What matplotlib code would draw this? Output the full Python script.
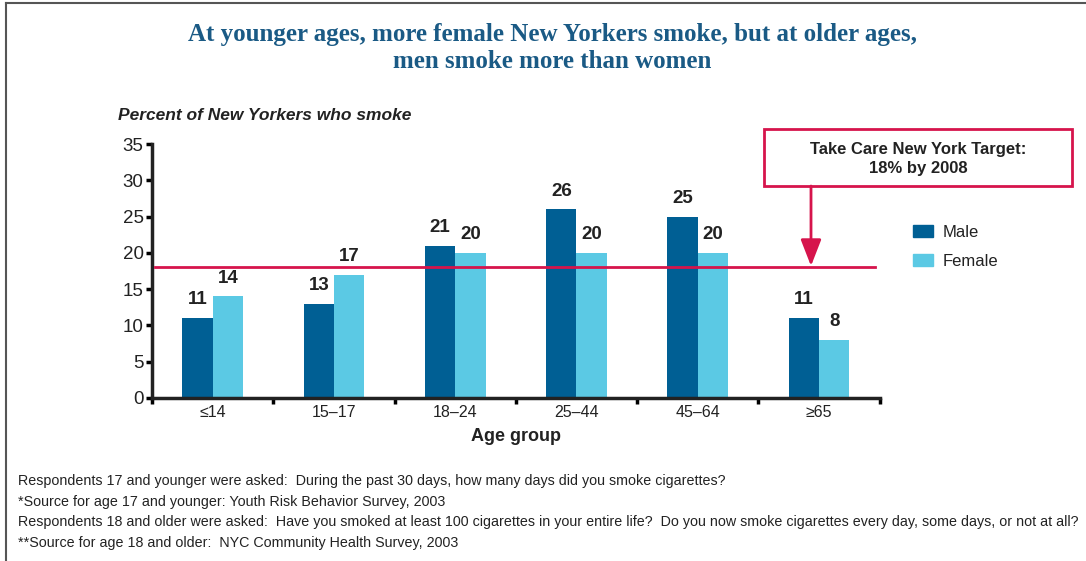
import numpy as np
import matplotlib.pyplot as plt
from matplotlib.lines import Line2D
from matplotlib.patches import Rectangle

# smoking rates by age group, 2003
ages = ["\u226414", "15\u201317", "18\u201324", "25\u201344", "45\u201364", "\u226565"]
male = [11, 13, 21, 26, 25, 11]
female = [14, 17, 20, 20, 20, 8]
target = 18

male_col = "#005f94"
female_col = "#5bc9e4"
red = "#d6144c"
blue_title = "#1a5a85"

plt.rcParams['font.family'] = ['Liberation Sans', 'DejaVu Sans']

fig = plt.figure(figsize=(10.86, 5.61), dpi=100)
ax = fig.add_axes([0.140, 0.2906, 0.670, 0.4527])

x = np.arange(len(ages))
w = 0.25
ax.bar(x - w / 2, male, w, color=male_col, label="Male", zorder=2)
ax.bar(x + w / 2, female, w, color=female_col, label="Female", zorder=2)

for xi, m, f in zip(x, male, female):
    ax.annotate(str(m), (xi - w / 2, m), xytext=(0, 7), textcoords="offset points",
                ha="center", va="bottom", fontsize=13.5, fontweight="bold", color="#222222")
    ax.annotate(str(f), (xi + w / 2, f), xytext=(0, 7), textcoords="offset points",
                ha="center", va="bottom", fontsize=13.5, fontweight="bold", color="#222222")

ax.axhline(target, xmin=0.004, xmax=0.993, color=red, lw=2, zorder=3)

ax.set_xlim(-0.5, 5.5)
ax.set_ylim(0, 35)
ax.set_yticks(range(0, 36, 5))
ax.set_xticks(np.arange(-0.5, 6, 1))
ax.set_xticklabels([])
ax.set_xticks(x, minor=True)
ax.set_xticklabels(ages, minor=True, fontsize=11.5, color="#222222")
ax.tick_params(axis="x", which="minor", length=0, pad=5)
ax.tick_params(axis="x", which="major", length=4, width=2.5, direction="out")
ax.tick_params(axis="y", length=4, width=2.5, labelsize=13.5, pad=2, labelcolor="#222222")
for s in ["top", "right"]:
    ax.spines[s].set_visible(False)
for s in ["left", "bottom"]:
    ax.spines[s].set_linewidth(2.5)
    ax.spines[s].set_color("#222222")

ax.set_xlabel("Age group", fontsize=13, fontweight="bold", color="#222222", labelpad=6)
fig.text(118 / 1086, 1 - 115 / 561, "Percent of New Yorkers who smoke", fontsize=12.5,
         fontweight="bold", style="italic", color="#222222", va="center")

# target callout box and arrow
fig.patches.append(Rectangle((764 / 1086, 1 - 186 / 561), 308 / 1086, 57 / 561,
                             transform=fig.transFigure, fill=False, ec=red, lw=2))
fig.text(918 / 1086, 1 - 159 / 561, "Take Care New York Target:\n18% by 2008",
         ha="center", va="center", fontsize=12, fontweight="bold", color="#222222",
         linespacing=1.4)
ax.annotate("", xy=(811 / 1086, 1 - 266 / 561), xycoords="figure fraction",
            xytext=(811 / 1086, 1 - 186 / 561), textcoords="figure fraction",
            arrowprops=dict(arrowstyle="-|>,head_length=0.9,head_width=0.35", color=red, lw=2,
                            mutation_scale=18, shrinkA=0, shrinkB=0))

handles = [Rectangle((0, 0), 1, 1, color=male_col), Rectangle((0, 0), 1, 1, color=female_col)]
fig.legend(handles, ["Male", "Female"], loc="upper left", bbox_to_anchor=(898 / 1086, 1 - 210 / 561),
           frameon=False, fontsize=12, handlelength=1.2, handleheight=0.75,
           labelspacing=0.85, handletextpad=0.6, labelcolor="#222222")

fig.text(552 / 1086, 1 - 48 / 561,
         "At younger ages, more female New Yorkers smoke, but at older ages,\nmen smoke more than women",
         ha="center", va="center", fontsize=18, fontweight="bold", color=blue_title,
         family=["Liberation Serif", "DejaVu Serif"], linespacing=1.25)

notes = [
    "Respondents 17 and younger were asked:  During the past 30 days, how many days did you smoke cigarettes?",
    "*Source for age 17 and younger: Youth Risk Behavior Survey, 2003",
    "Respondents 18 and older were asked:  Have you smoked at least 100 cigarettes in your entire life?  Do you now smoke cigarettes every day, some days, or not at all?",
    "**Source for age 18 and older:  NYC Community Health Survey, 2003",
]
for i, n in enumerate(notes):
    fig.text(18 / 1086, 1 - (481 + i * 20.7) / 561, n, fontsize=10.3, color="#222222",
             va="center")

# page frame lines (top and left)
fig.add_artist(Line2D([6 / 1086, 1], [1 - 3 / 561, 1 - 3 / 561], transform=fig.transFigure,
                      color="#555555", lw=1.5))
fig.add_artist(Line2D([6 / 1086, 6 / 1086], [0, 1 - 3 / 561], transform=fig.transFigure,
                      color="#555555", lw=1.5))

fig.savefig("out.png", dpi=100)
